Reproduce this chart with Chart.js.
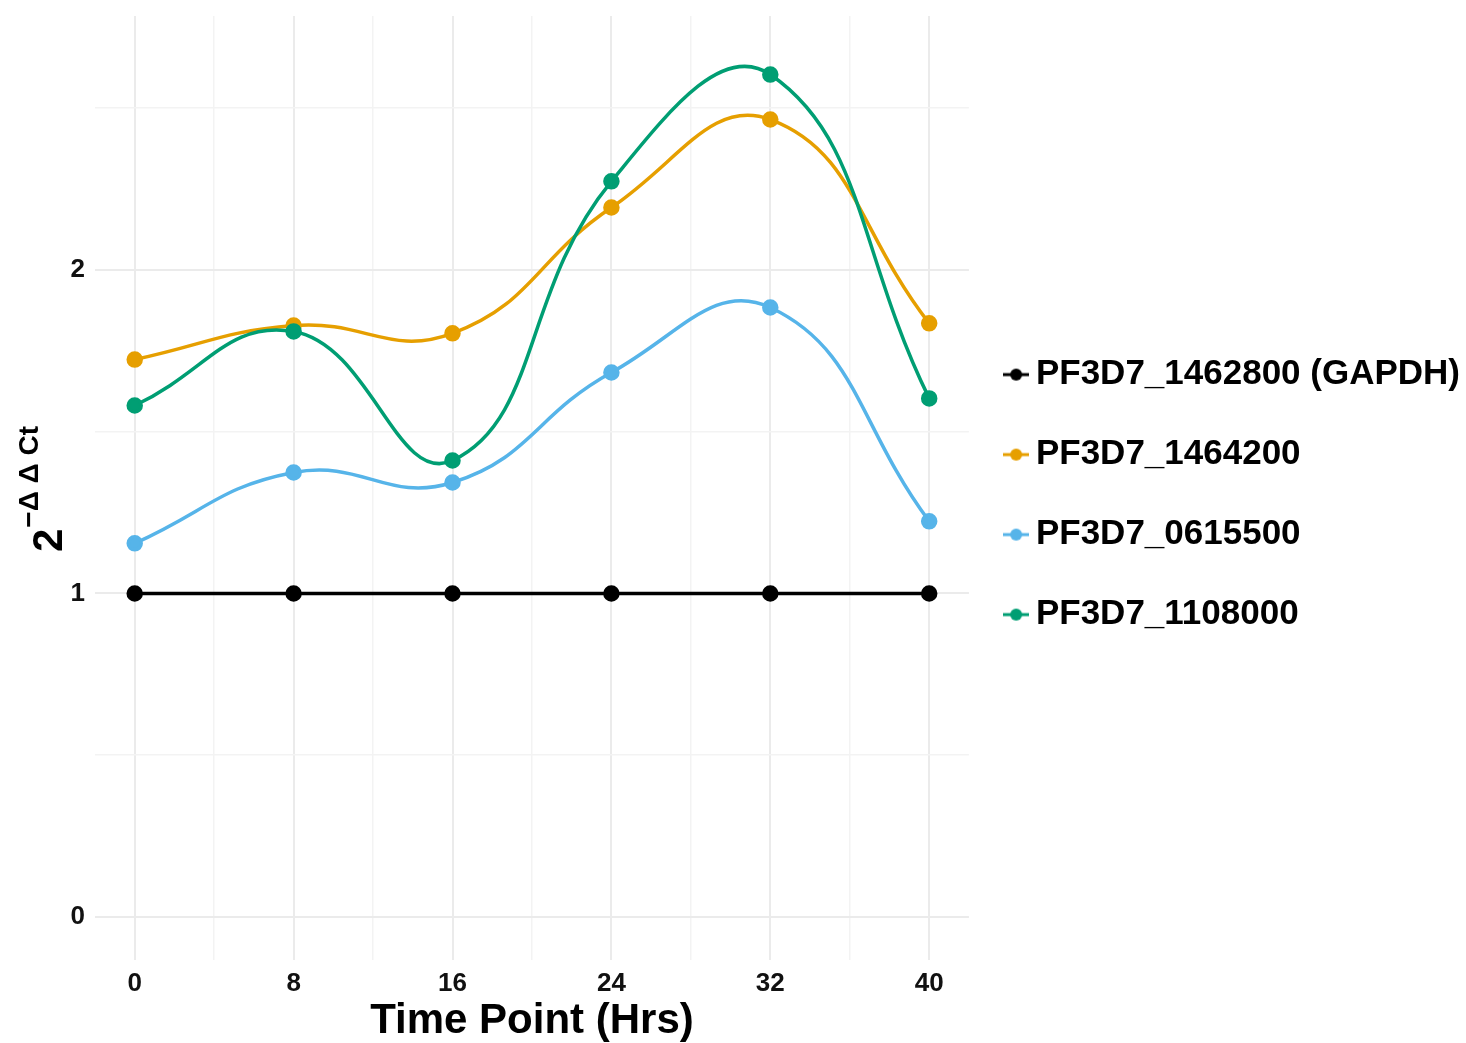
<!DOCTYPE html>
<html>
<head>
<meta charset="utf-8">
<script src="https://cdn.jsdelivr.net/npm/chart.js@4"></script>
<style>
  html, body { margin: 0; padding: 0; background: #fff; }
  #wrap { width: 1466px; height: 1043px; }
</style>
</head>
<body>
<div id="wrap"><canvas id="chart"></canvas></div>
<script>
const timePoints = [0, 8, 16, 24, 32, 40];
const xMinorTicks = [4, 12, 20, 28, 36];
const seriesNames = ['PF3D7_1462800 (GAPDH)', 'PF3D7_1464200', 'PF3D7_0615500', 'PF3D7_1108000'];
const seriesColors = ['#000000', '#E69F00', '#56B4E9', '#009E73'];
const gapdh = [1, 1, 1, 1, 1, 1];
const pf1464200 = [1.723, 1.828, 1.804, 2.193, 2.465, 1.835];
const pf0615500 = [1.155, 1.374, 1.343, 1.683, 1.884, 1.223];
const pf1108000 = [1.581, 1.810, 1.411, 2.274, 2.604, 1.603];
const seriesValues = [gapdh, pf1464200, pf0615500, pf1108000];

const FONT = 'Liberation Sans, Arial, Helvetica, sans-serif';

// little "line with a dot" swatch for the legend, like ggplot's key
function keyGlyph(color) {
  const c = document.createElement('canvas');
  c.width = 26; c.height = 14;
  const g = c.getContext('2d');
  g.strokeStyle = color; g.lineWidth = 3;
  g.beginPath(); g.moveTo(0, 7); g.lineTo(26, 7); g.stroke();
  g.fillStyle = color;
  g.beginPath(); g.arc(13, 7, 6, 0, Math.PI * 2); g.fill();
  return c;
}

const yTitle = {
  id: 'yTitle',
  afterDraw(chart) {
    const ctx = chart.ctx;
    const mid = (chart.chartArea.top + chart.chartArea.bottom) / 2;
    ctx.save();
    ctx.translate(62, mid + 64);
    ctx.rotate(-Math.PI / 2);
    ctx.fillStyle = '#000';
    ctx.textBaseline = 'alphabetic';
    ctx.font = 'bold 42px ' + FONT;
    ctx.fillText('2', 0, 0);
    const w = ctx.measureText('2').width;
    ctx.font = 'bold 28px ' + FONT;
    ctx.fillText('\u2212\u0394 \u0394 Ct', w + 1, -24);
    ctx.restore();
  }
};

const datasets = seriesNames.map((name, i) => ({
  label: name,
  data: timePoints.map((t, j) => ({ x: t, y: seriesValues[i][j] })),
  borderColor: seriesColors[i],
  backgroundColor: seriesColors[i],
  borderWidth: 3.5,
  pointRadius: 6.5,
  pointHoverRadius: 6.5,
  tension: i === 0 ? 0 : 0.45,
  order: seriesNames.length - i
}));

new Chart(document.getElementById('chart'), {
  type: 'line',
  data: { datasets },
  options: {
    responsive: true,
    maintainAspectRatio: false,
    animation: false,
    layout: { padding: { top: 16, right: -4, bottom: 0, left: 0 } },
    plugins: {
      legend: {
        position: 'right',
        fullSize: false,
        maxWidth: 600,
        // empty title only nudges the key block down a little
        title: { display: true, text: '', padding: 0, font: { size: 11 } },
        labels: {
          usePointStyle: true,
          boxWidth: 4.5,
          padding: 45,
          color: '#000',
          font: { family: FONT, size: 35, weight: 'bold' },
          sort: (a, b) => a.datasetIndex - b.datasetIndex,
          generateLabels: chart => chart.data.datasets.map((d, i) => ({
            text: d.label,
            datasetIndex: i,
            pointStyle: keyGlyph(d.borderColor),
            fillStyle: d.borderColor,
            strokeStyle: d.borderColor,
            lineWidth: 0,
            fontColor: '#000',
            hidden: false
          }))
        }
      },
      tooltip: { enabled: false }
    },
    scales: {
      x: {
        type: 'linear',
        min: -2,
        max: 42,
        afterFit: s => { s.height = 83; s.paddingLeft = 0; s.paddingRight = 0; },
        afterBuildTicks: s => {
          s.ticks = timePoints.concat(xMinorTicks).sort((a, b) => a - b).map(v => ({ value: v }));
        },
        border: { display: false },
        grid: {
          drawTicks: false,
          color: c => c.tick.value % 8 === 0 ? '#ebebeb' : '#f3f3f3',
          lineWidth: c => c.tick.value % 8 === 0 ? 2 : 1.5
        },
        ticks: {
          padding: 8,
          color: '#111',
          font: { family: FONT, size: 26, weight: 'bold' },
          callback: v => v % 8 === 0 ? String(v) : ''
        },
        title: {
          display: true,
          text: 'Time Point (Hrs)',
          color: '#000',
          padding: { top: 0, bottom: -4 },
          font: { family: FONT, size: 42, weight: 'bold' }
        }
      },
      y: {
        min: -0.133,
        max: 2.785,
        afterFit: s => { s.width = 95; s.paddingTop = 0; s.paddingBottom = 0; },
        border: { display: false },
        grid: {
          drawTicks: false,
          color: c => Number.isInteger(c.tick.value) ? '#ebebeb' : '#f3f3f3',
          lineWidth: c => Number.isInteger(c.tick.value) ? 2 : 1.5
        },
        ticks: {
          stepSize: 0.5,
          includeBounds: false,
          padding: 10,
          color: '#111',
          font: { family: FONT, size: 26, weight: 'bold' },
          callback: v => Number.isInteger(v) ? String(v) : ''
        }
      }
    }
  },
  plugins: [yTitle]
});
</script>
</body>
</html>
